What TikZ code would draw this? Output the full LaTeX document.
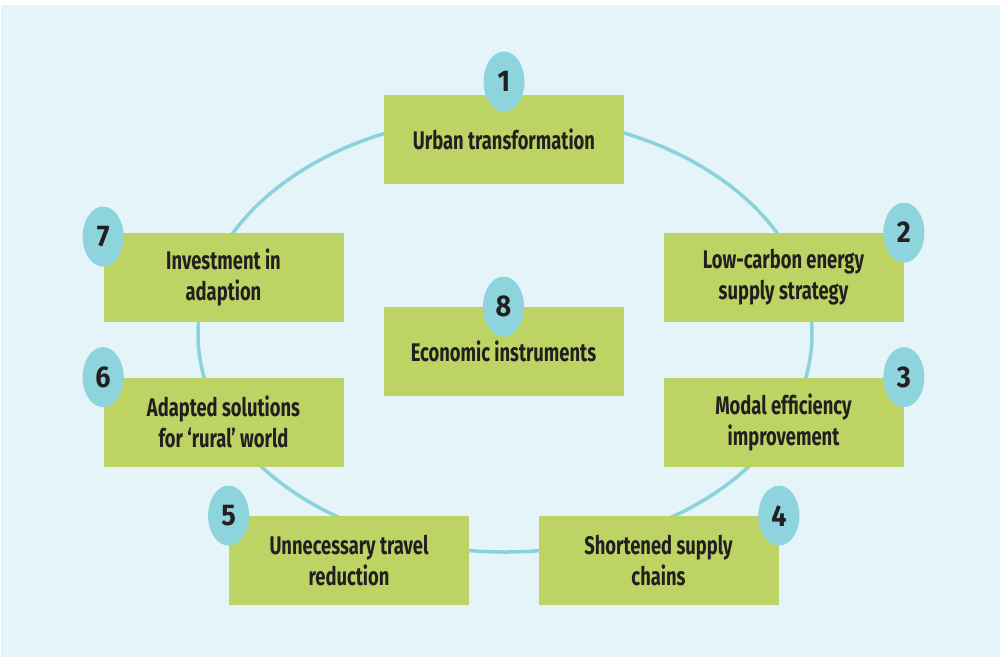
\documentclass[tikz,border=0pt]{standalone}
\usepackage{fontspec}
\setmainfont{Fira Sans}[FakeStretch=0.72]
\newfontfamily\numfont{Fira Sans}[FakeStretch=0.9]
\usetikzlibrary{shapes.geometric}

\definecolor{bgblue}{HTML}{E5F4F9}
\definecolor{boxgreen}{HTML}{BDD363}
\definecolor{ringblue}{HTML}{8BD3DB}
\definecolor{numblue}{HTML}{8ED4DC}
\definecolor{txt}{HTML}{231F20}

\begin{document}
\begin{tikzpicture}[x=1pt,y=-1pt,thick,
    step node/.style={rectangle,fill=boxgreen,draw=none,minimum width=240pt,minimum height=89pt,
        inner sep=0pt,align=center,text=txt,font=\bfseries\fontsize{25.5}{31}\selectfont},
    num node/.style={ellipse,fill=numblue,draw=none,minimum width=41pt,minimum height=60pt,
        inner sep=0pt,text=txt,font=\numfont\bfseries\fontsize{30}{30}\selectfont}]

            \useasboundingbox (0,0) rectangle (1000,657);
            \fill[bgblue] (1,5) rectangle (1000,657);

            % ring behind the boxes
            \coordinate (c) at (505,334);
            \draw[ringblue,line width=3.5pt] (c) ellipse [x radius=307pt,y radius=218pt];

            \node[step node]  (1) at (504,139.5) {Urban transformation};
            \node[step node]  (2) at (783.5,277.5) {Low-carbon energy\\supply strategy};
            \node[step node]  (3) at (783.5,422) {Modal efficiency\\improvement};
            \node[step node]  (4) at (658.5,560.5) {Shortened supply\\chains};
            \node[step node]  (5) at (349,560.5) {Unnecessary travel\\reduction};
            \node[step node]  (6) at (223.5,422) {Adapted solutions\\for `rural' world};
            \node[step node]  (7) at (223.5,277.5) {Investment in\\adaption};
            \node[step node]  (8) at (503.5,351.5) {Economic instruments};

            \node[num node]  (n1) at ([yshift=13pt]1.north) {1};
            \node[num node]  (n2) at (2.north east) {2};
            \node[num node]  (n3) at (3.north east) {3};
            \node[num node]  (n4) at (4.north east) {4};
            \node[num node]  (n5) at (5.north west) {5};
            \node[num node]  (n6) at (6.north west) {6};
            \node[num node]  (n7) at ([yshift=-4pt]7.north west) {7};
            \node[num node]  (n8) at (8.north) {8};
        \end{tikzpicture}
\end{document}
